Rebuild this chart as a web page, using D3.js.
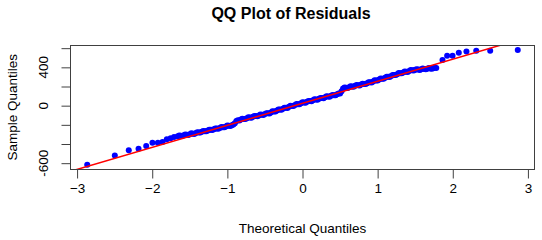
<!DOCTYPE html>
<html>
<head>
<meta charset="utf-8">
<script src="https://cdn.jsdelivr.net/npm/d3@7"></script>
<style>
  body { margin: 0; background: #fff; }
  text { font-family: "Liberation Sans", Arial, sans-serif; fill: #000; }
</style>
</head>
<body>
<div id="chart"></div>
<script>
// Theoretical quantiles (x) and sample quantiles (y)
var theoretical = [
  -2.865, -2.498, -2.312, -2.182, -2.080, -1.997, -1.925, -1.863, -1.806, -1.755, -1.709,
  -1.66, -1.64, -1.62, -1.60, -1.58, -1.56, -1.54, -1.52, -1.50, -1.48, -1.46, -1.44,
  -1.42, -1.40, -1.38, -1.36, -1.34, -1.32, -1.30, -1.28, -1.26, -1.24, -1.22, -1.20,
  -1.18, -1.16, -1.14, -1.12, -1.10, -1.08, -1.06, -1.04, -1.02, -1.00, -0.98, -0.96,
  -0.94, -0.92, -0.90, -0.88, -0.86, -0.84, -0.82, -0.80, -0.78, -0.76, -0.74, -0.72,
  -0.70, -0.68, -0.66, -0.64, -0.62, -0.60, -0.58, -0.56, -0.54, -0.52, -0.50, -0.48,
  -0.46, -0.44, -0.42, -0.40, -0.38, -0.36, -0.34, -0.32, -0.30, -0.28, -0.26, -0.24,
  -0.22, -0.20, -0.18, -0.16, -0.14, -0.12, -0.10, -0.08, -0.06, -0.04, -0.02, 0.00,
  0.02, 0.04, 0.06, 0.08, 0.10, 0.12, 0.14, 0.16, 0.18, 0.20, 0.22, 0.24,
  0.26, 0.28, 0.30, 0.32, 0.34, 0.36, 0.38, 0.40, 0.42, 0.44, 0.46, 0.48,
  0.50, 0.52, 0.54, 0.56, 0.58, 0.60, 0.62, 0.64, 0.66, 0.68, 0.70, 0.72,
  0.74, 0.76, 0.78, 0.80, 0.82, 0.84, 0.86, 0.88, 0.90, 0.92, 0.94, 0.96,
  0.98, 1.00, 1.02, 1.04, 1.06, 1.08, 1.10, 1.12, 1.14, 1.16, 1.18, 1.20,
  1.22, 1.24, 1.26, 1.28, 1.30, 1.32, 1.34, 1.36, 1.38, 1.40, 1.42, 1.44,
  1.46, 1.48, 1.50, 1.52, 1.54, 1.56, 1.58, 1.60, 1.62, 1.64, 1.66, 1.68,
  1.70, 1.72, 1.74, 1.76, 1.78,
  1.863, 1.925, 1.997, 2.080, 2.182, 2.312, 2.498, 2.865
];
var sample = [
  -616, -519, -466, -449, -421, -386, -386, -379, -351, -340, -327,
  -320, -311, -314, -317, -309, -300, -303, -306, -298, -289, -292, -295,
  -286, -277, -279, -281, -272, -263, -266, -268, -259, -250, -252, -255,
  -246, -237, -239, -241, -232, -222, -224, -226, -217, -208, -210, -212,
  -203, -196, -183, -160, -152, -154, -145, -136, -138, -140, -131, -122,
  -124, -126, -116, -107, -109, -111, -102, -93, -95, -97, -88, -78,
  -80, -81, -70, -59, -60, -61, -51, -40, -41, -42, -32, -21,
  -22, -23, -12, -2, -3, -4, 6, 17, 16, 15, 25, 35,
  33, 31, 41, 50, 48, 46, 56, 66, 64, 62, 72, 81,
  79, 77, 87, 97, 95, 93, 103, 112, 110, 108, 118, 128,
  126, 150, 180, 189, 187, 184, 193, 202, 200, 198, 207, 216,
  214, 211, 220, 229, 227, 225, 234, 245, 244, 243, 253, 264,
  263, 262, 272, 283, 282, 281, 291, 302, 301, 300, 310, 321,
  320, 319, 329, 340, 339, 337, 346, 356, 354, 352, 362, 371,
  369, 366, 374, 381, 377, 373, 380, 387, 383, 379, 386, 393,
  389, 385, 391, 398, 394,
  477, 522, 522, 553, 564, 574, 574, 582
];
// reference line (qqline): intercept and slope
var lineIntercept = 25;
var lineSlope = 230;

var xTicks = [-3, -2, -1, 0, 1, 2, 3];
var yTicks = [-600, -400, -200, 0, 200, 400, 600];
var yLabels = [-600, 0, 400];

var svgWidth = 542;
var svgHeight = 240;
var plot = { left: 70, right: 535, top: 45.3, bottom: 169.3 };

var data = theoretical.map(function (q, i) { return { x: q, y: sample[i] }; });

var svg = d3.select("#chart")
    .append("svg")
    .attr("width", svgWidth)
    .attr("height", svgHeight);

// R style 4% padding around the data range
var xExt = d3.extent(theoretical);
var yExt = d3.extent(sample);
var xPad = (xExt[1] - xExt[0]) * 0.04;
var yPad = (yExt[1] - yExt[0]) * 0.04;

var xScale = d3.scaleLinear()
    .domain([xExt[0] - xPad, xExt[1] + xPad])
    .range([plot.left, plot.right]);

var yScale = d3.scaleLinear()
    .domain([yExt[0] - yPad, yExt[1] + yPad])
    .range([plot.bottom, plot.top]);

svg.append("clipPath")
    .attr("id", "clip")
    .append("rect")
    .attr("x", plot.left)
    .attr("y", plot.top)
    .attr("width", plot.right - plot.left)
    .attr("height", plot.bottom - plot.top);

// points
svg.append("g")
    .selectAll("circle")
    .data(data)
    .enter()
    .append("circle")
    .attr("cx", d => xScale(d.x))
    .attr("cy", d => yScale(d.y))
    .attr("r", 3)
    .attr("fill", "#0000ff");

// qq line
var xd = xScale.domain();
svg.append("line")
    .attr("clip-path", "url(#clip)")
    .attr("x1", xScale(xd[0]))
    .attr("y1", yScale(lineIntercept + lineSlope * xd[0]))
    .attr("x2", xScale(xd[1]))
    .attr("y2", yScale(lineIntercept + lineSlope * xd[1]))
    .attr("stroke", "#ff0000")
    .attr("stroke-width", 1.5);

// box
svg.append("rect")
    .attr("x", plot.left + 0.5)
    .attr("y", Math.round(plot.top) + 0.5)
    .attr("width", plot.right - plot.left - 1)
    .attr("height", Math.round(plot.bottom) - Math.round(plot.top))
    .attr("fill", "none")
    .attr("stroke", "#404040")
    .attr("stroke-width", 1);

// x axis
var bottomAxis = d3.axisBottom(xScale)
    .tickValues(xTicks)
    .tickSize(9)
    .tickPadding(5)
    .tickFormat(d3.format("d"));

var gx = svg.append("g")
    .attr("transform", `translate(0, ${Math.round(plot.bottom) + 0.5})`)
    .call(bottomAxis);
gx.select(".domain").remove();
gx.selectAll(".tick line").attr("stroke", "#404040");
gx.selectAll(".tick text")
    .attr("font-size", "13.5px")
    .attr("font-family", "Liberation Sans, Arial, sans-serif")
    .attr("fill", "#000");

// y axis
var leftAxis = d3.axisLeft(yScale)
    .tickValues(yTicks)
    .tickSize(9)
    .tickFormat("");

var gy = svg.append("g")
    .attr("transform", `translate(${plot.left + 0.5}, 0)`)
    .call(leftAxis);
gy.select(".domain").remove();
gy.selectAll(".tick line").attr("stroke", "#404040");

svg.append("g")
    .selectAll("text")
    .data(yLabels)
    .enter()
    .append("text")
    .attr("transform", d => `translate(43.5, ${yScale(d)}) rotate(-90)`)
    .attr("text-anchor", "middle")
    .attr("dominant-baseline", "central")
    .attr("font-size", "13.5px")
    .text(d => d);

// titles
svg.append("text")
    .attr("x", 291)
    .attr("y", 19)
    .attr("text-anchor", "middle")
    .attr("font-size", "16px")
    .attr("font-weight", "bold")
    .text("QQ Plot of Residuals");

svg.append("text")
    .attr("x", (plot.left + plot.right) / 2)
    .attr("y", 233)
    .attr("text-anchor", "middle")
    .attr("font-size", "13.5px")
    .text("Theoretical Quantiles");

svg.append("text")
    .attr("transform", `translate(12.5, ${(plot.top + plot.bottom) / 2}) rotate(-90)`)
    .attr("text-anchor", "middle")
    .attr("dominant-baseline", "central")
    .attr("font-size", "13.5px")
    .text("Sample Quantiles");
</script>
</body>
</html>
